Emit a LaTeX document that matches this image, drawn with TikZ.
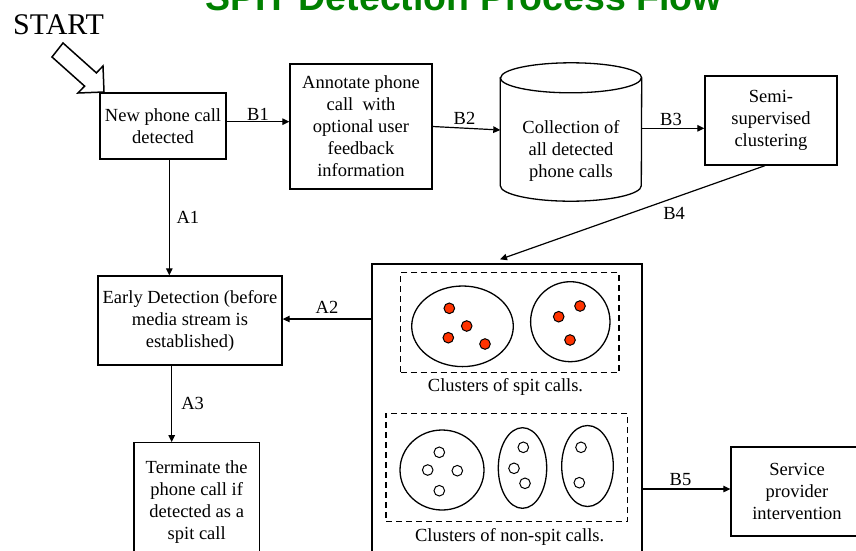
\documentclass[tikz,border=0pt]{standalone}
\usepackage{fontspec}
\setmainfont{Liberation Serif}
\setsansfont{Liberation Sans}
\usetikzlibrary{arrows.meta,calc}
\definecolor{titlegreen}{RGB}{0,128,0}
\definecolor{spitred}{RGB}{255,51,0}
\newcommand\bodyfont{\fontsize{18.5}{22}\selectfont}
\tikzset{
  box/.style={draw, line width=1.3pt, inner sep=0pt, align=center, font=\bodyfont},
  txt/.style={inner sep=0pt, align=center, font=\bodyfont},
  flow/.style={line width=1.2pt, -{Triangle[length=7pt,width=6.5pt]}},
  lbl/.style={font=\bodyfont, inner sep=1pt},
  dashbox/.style={draw, line width=1.3pt, dash pattern=on 6pt off 4pt, inner sep=0pt},
  clus/.style={line width=1.3pt},
  spitdot/.style={draw, line width=1pt, fill=spitred},
  calldot/.style={draw, line width=1pt, fill=white},
}
\begin{document}
\begin{tikzpicture}[x=1pt,y=-1pt]
\useasboundingbox (0,0) rectangle (856,550);
\clip (0,0) rectangle (856,550);

% heading and entry marker
\node[anchor=base east, inner sep=0pt, text=titlegreen,
      font=\sffamily\bfseries\fontsize{37.5}{40}\selectfont] (title) at (722,10) {SPIT Detection Process Flow};
\node[anchor=base west, inner sep=0pt, font=\fontsize{30}{34}\selectfont] (start) at (13,34) {START};
\draw[line width=1.5pt, fill=white, line join=miter]
  (63,43) -- (96.4,72.9) -- (103,66) -- (104,92) -- (78,93) -- (84.6,86.1) -- (52,57) -- cycle;

% process boxes
\node[box, minimum width=126pt, minimum height=66pt] (n1) at (163,126) {New phone call\\detected};
\node[box, minimum width=142pt, minimum height=125pt] (ann) at (361,126.5)
  {Annotate phone\\call\ \ with\\optional user\\feedback\\information};
\node[box, minimum width=132pt, minimum height=89pt] (semi) at (771,120.5) {Semi-\\supervised\\clustering};
\node[box, minimum width=184pt, minimum height=89pt] (early) at (190,320.5)
  {Early Detection (before\\media stream is\\established)};
\node[box, minimum width=125.3pt, minimum height=119.4pt] (term) at (196.7,502.4)
  {Terminate the\\phone call if\\detected as a\\spit call};
\node[box, minimum width=132pt, minimum height=89pt] (svc) at (797,491.5) {Service\\provider\\intervention};

% storage cylinder
\node[minimum width=141pt, minimum height=138pt, inner sep=0pt] (coll) at (571,132) {};
\draw[line width=1.3pt, fill=white]
  ([yshift=-15pt]coll.north west) -- ([yshift=15.5pt]coll.south west)
  arc[start angle=180, end angle=360, x radius=70.5pt, y radius=15.5pt]
  -- ([yshift=-15pt]coll.north east)
  arc[start angle=0, end angle=180, x radius=70.5pt, y radius=15pt] -- cycle;
\draw[line width=1.3pt] ([yshift=-15pt]coll.north west)
  arc[start angle=180, end angle=360, x radius=70.5pt, y radius=15pt];
\node[txt] (colltxt) at (571,151) {Collection of\\all detected\\phone calls};

% clustering result panel
\node[draw, line width=1.3pt, minimum width=270pt, minimum height=336pt, inner sep=0pt] (clusters) at (507,432) {};
\node[dashbox, minimum width=218.3pt, minimum height=100pt] (spitbox) at (509.85,322.7) {};
\node[dashbox, minimum width=241.3pt, minimum height=108.4pt] (hambox) at (506.65,467.5) {};
\node[txt, anchor=base] (spitcap) at (505.5,391.7) {Clusters of spit calls.};
\node[txt, anchor=base] (hamcap) at (509.7,541.7) {Clusters of non-spit calls.};

\draw[clus] (462.5,326.3) ellipse[x radius=50.8pt, y radius=40.3pt];
\draw[clus] (570.3,321.7) ellipse[x radius=39.7pt, y radius=40pt];
\foreach \p in {(449.3,308.3),(466.7,326),(448.3,337.7),(485,344),(580,306),(558.7,316.7),(570,340)}
  \draw[spitdot] \p circle[radius=5.3pt];

\draw[clus] (442,470) ellipse[x radius=42pt, y radius=40pt];
\draw[clus] (522.5,468) ellipse[x radius=24.2pt, y radius=40.3pt];
\draw[clus] (587.5,466) ellipse[x radius=25.8pt, y radius=40.5pt];
\foreach \p in {(439.3,452.3),(427.7,470),(457.3,470.7),(439.3,490.7),(523.3,447.3),(514,468.3),(525,483.3),(581,447.3),(579.3,482.7)}
  \draw[calldot] \p circle[radius=5.3pt];

% connectors
\draw[flow] ([yshift=4.3pt]n1.east) -- ([yshift=4.3pt]n1.east -| ann.west)
  node[midway, above, lbl] (b1) {B1};
\draw[flow] (ann.east) -- ([yshift=2pt]coll.west)
  node[midway, above, lbl, inner sep=3pt, xshift=-2pt] (b2) {B2};
\draw[flow] ([yshift=3.7pt]coll.east) -- ([yshift=3.7pt]coll.east -| semi.west)
  node[midway, above, lbl, inner sep=2pt, xshift=-2pt] (b3) {B3};
\draw[flow] ([xshift=-6pt]semi.south) -- ([shift={(-7pt,4pt)}]clusters.north)
  node[pos=0.343, lbl, yshift=-16pt] (b4) {B4};
\draw[flow] ([xshift=6.3pt]n1.south) -- ([xshift=6.3pt]n1.south |- early.north)
  node[midway, right, lbl, inner sep=6.7pt] (a1) {A1};
\draw[flow] ([yshift=1.5pt]early.east -| clusters.west) -- ([yshift=1.5pt]early.east)
  node[midway, above, lbl, inner sep=5pt] (a2) {A2};
\draw[flow] ([xshift=-18.3pt]early.south) -- ([xshift=-18.3pt]early.south |- term.north)
  node[midway, right, lbl, inner sep=9pt] (a3) {A3};
\draw[flow] ([yshift=2.5pt]svc.west -| clusters.east) -- ([yshift=2.5pt]svc.west)
  node[midway, above, lbl, inner sep=3pt, xshift=-6pt] (b5) {B5};
\end{tikzpicture}
\end{document}
